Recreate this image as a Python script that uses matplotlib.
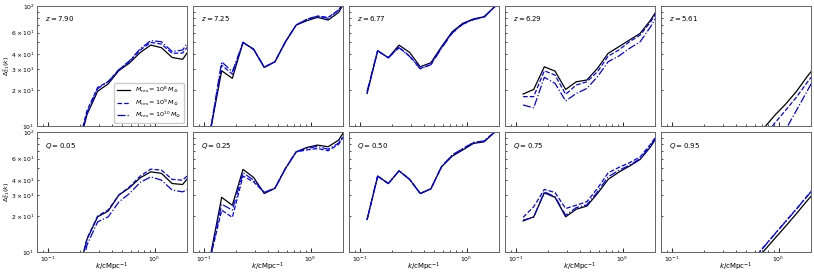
import numpy as np
import matplotlib
matplotlib.use("Agg")
import matplotlib.pyplot as plt

# k bins (cMpc^-1)
k = [0.117, 0.147, 0.185, 0.233, 0.293, 0.368, 0.463, 0.582, 0.733, 0.921, 1.16, 1.46, 1.83, 2.3]

z_labels = ["7.90", "7.25", "6.77", "6.29", "5.61"]
q_labels = ["0.05", "0.25", "0.50", "0.75", "0.95"]
res_labels = [r"$M_{\rm res}=10^{8}\,M_{\odot}$",
              r"$M_{\rm res}=10^{9}\,M_{\odot}$",
              r"$M_{\rm res}=10^{10}\,M_{\odot}$"]

nan = np.nan

# top row: fixed redshift; each entry = [1e8, 1e9, 1e10]
z790 = [[nan, nan, 5.7, 12.5, 19.5, 22.5, 29.0, 33.5, 41.0, 47.3, 45.0, 37.3, 36.0, 48.0],
        [nan, nan, 6.0, 13.5, 21.0, 23.5, 29.5, 34.5, 43.0, 49.8, 48.2, 40.4, 40.6, 52.0],
        [nan, nan, 5.8, 13.0, 20.5, 23.5, 29.5, 35.0, 44.0, 51.5, 50.4, 41.8, 43.0, 57.0]]
z725 = [[9.8, 28.9, 25.0, 49.8, 43.6, 30.8, 34.3, 50.4, 69.5, 75.5, 80.5, 76.4, 88.5, 125.0],
        [9.9, 32.2, 27.1, 49.8, 43.6, 31.0, 34.3, 50.4, 69.5, 77.5, 82.5, 80.5, 92.6, 125.0],
        [10.0, 34.3, 28.4, 49.8, 43.6, 31.0, 34.3, 50.4, 69.5, 77.5, 82.5, 79.0, 92.6, 125.0]]
z677 = [[18.7, 42.4, 37.1, 47.3, 41.1, 31.2, 33.7, 45.8, 61.0, 71.8, 78.0, 81.5, 98.7, 140.0],
        [19.0, 42.4, 37.1, 45.3, 38.3, 30.2, 32.5, 45.0, 60.0, 71.0, 77.5, 81.0, 98.7, 140.0],
        [19.5, 42.4, 37.1, 45.0, 38.0, 30.0, 32.5, 44.5, 59.5, 70.5, 77.0, 81.0, 98.0, 140.0]]
z629 = [[18.5, 20.2, 31.2, 28.7, 20.2, 23.4, 24.2, 30.3, 40.4, 45.8, 52.1, 59.2, 76.4, 105.0],
        [17.6, 17.6, 28.9, 26.6, 18.4, 22.0, 23.4, 28.4, 38.3, 43.0, 50.4, 57.3, 74.0, 102.0],
        [15.0, 14.2, 25.5, 22.7, 16.2, 18.7, 20.6, 25.8, 34.4, 38.3, 44.4, 50.4, 67.3, 95.0]]
z561 = [[nan, nan, nan, nan, nan, nan, nan, nan, 9.7, 12.3, 15.2, 19.3, 25.5, 33.0],
        [nan, nan, nan, nan, nan, nan, nan, nan, 8.2, 10.6, 13.5, 17.3, 22.8, 29.5],
        [nan, nan, nan, nan, nan, nan, nan, nan, nan, 6.5, 9.3, 13.4, 19.2, 28.0]]

# bottom row: fixed global ionised fraction Q
q005 = [[nan, nan, 5.8, 12.8, 19.7, 22.0, 29.9, 34.4, 41.6, 46.7, 45.3, 37.3, 36.6, 47.0],
        [nan, nan, 5.8, 13.0, 20.0, 22.5, 30.0, 35.0, 43.0, 49.2, 48.2, 40.4, 39.8, 48.0],
        [nan, nan, 4.5, 11.5, 17.9, 19.7, 26.2, 30.8, 38.1, 42.4, 39.8, 32.9, 31.8, 35.0]]
q025 = [[10.0, 28.6, 24.6, 48.9, 41.9, 30.8, 34.0, 49.8, 68.5, 74.5, 78.0, 75.5, 85.8, 118.0],
        [9.5, 22.4, 19.5, 43.0, 38.5, 31.5, 34.0, 49.8, 68.5, 71.0, 73.0, 70.0, 79.0, 110.0],
        [9.6, 25.1, 22.4, 45.8, 39.8, 31.5, 34.0, 49.8, 68.5, 73.0, 76.0, 72.0, 81.0, 112.0]]
q050 = [[18.7, 43.0, 37.3, 47.6, 40.4, 30.8, 33.7, 51.4, 63.0, 71.0, 80.5, 83.0, 100.0, 135.0],
        [18.7, 43.0, 37.3, 47.6, 40.4, 30.8, 33.7, 51.4, 64.0, 72.5, 81.5, 84.0, 100.0, 135.0],
        [18.7, 43.0, 37.3, 47.6, 40.4, 30.8, 33.7, 51.4, 64.5, 73.0, 82.0, 84.5, 100.0, 135.0]]
q075 = [[18.2, 19.7, 31.2, 28.6, 19.7, 22.8, 24.2, 30.8, 40.4, 46.4, 52.1, 59.2, 75.5, 104.0],
        [19.5, 23.9, 33.3, 31.4, 23.1, 24.6, 26.3, 34.0, 45.8, 50.8, 55.5, 62.2, 79.4, 106.0],
        [18.5, 19.5, 31.8, 29.0, 20.3, 23.5, 24.8, 31.8, 42.5, 48.0, 53.0, 60.0, 77.5, 105.0]]
q095 = [[nan, nan, nan, nan, nan, nan, nan, 8.1, 10.3, 13.0, 16.4, 20.8, 26.5, 33.5],
        [nan, nan, nan, nan, nan, nan, nan, 8.8, 11.2, 14.2, 18.0, 22.8, 29.0, 36.8],
        [nan, nan, nan, nan, nan, nan, nan, 8.7, 11.1, 14.1, 17.9, 22.7, 28.8, 36.5]]

top_row = [z790, z725, z677, z629, z561]
bottom_row = [q005, q025, q050, q075, q095]

styles = [dict(color="black", ls="-"),
          dict(color="blue", ls="--"),
          dict(color="blue", ls="-.")]

plt.rcParams["font.size"] = 5
plt.rcParams["axes.edgecolor"] = "0.4"
plt.rcParams["axes.linewidth"] = 0.7

fig, axes = plt.subplots(2, 5, figsize=(8.14, 2.75), dpi=100, sharex=True, sharey=True)
fig.subplots_adjust(left=0.046, right=0.996, top=0.978, bottom=0.083,
                    wspace=0.045, hspace=0.05)

for row, (panels, name, labels) in enumerate([(top_row, "z", z_labels),
                                              (bottom_row, "Q", q_labels)]):
    for col in range(5):
        ax = axes[row, col]
        for i, series in enumerate(panels[col]):
            ax.plot(k, series, lw=0.9, label=res_labels[i], **styles[i])
        ax.text(0.05, 0.93, "$%s = %s$" % (name, labels[col]),
                transform=ax.transAxes, fontsize=5, va="top")
        ax.tick_params(which="both", direction="in", labelsize=4.4, pad=2)
        ax.tick_params(which="major", length=3, width=0.6)
        ax.tick_params(which="minor", length=1.7, width=0.5)

ax = axes[0, 0]
ax.set_xscale("log")
ax.set_yscale("log")
ax.set_xlim(0.08, 2.0)
ax.set_ylim(10, 100)

for row in range(2):
    axes[row, 0].set_ylabel(r"$\Delta^2_{21}(k)$", fontsize=4.6)
    axes[row, 0].yaxis.set_label_coords(-0.17, 0.5)
for col in range(5):
    axes[1, col].set_xlabel(r"$k/\mathrm{cMpc}^{-1}$", fontsize=5)
    axes[1, col].xaxis.set_label_coords(0.5, -0.07)

axes[0, 0].legend(loc="lower right", fontsize=4.6, handlelength=2.0,
                  labelspacing=0.35, borderpad=0.4, framealpha=1)

fig.savefig("out.png", dpi=100)
